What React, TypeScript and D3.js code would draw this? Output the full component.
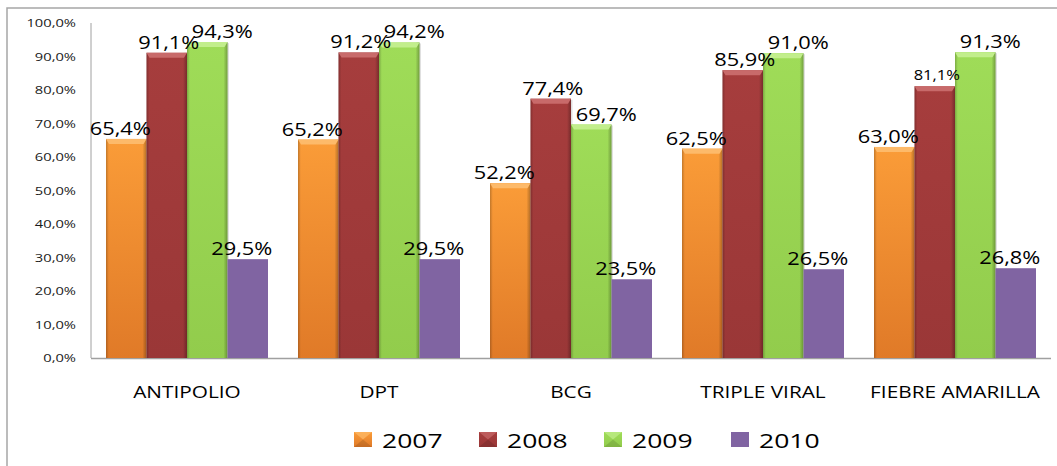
import React from "react";
import * as d3 from "d3";

const categories = ["ANTIPOLIO", "DPT", "BCG", "TRIPLE VIRAL", "FIEBRE AMARILLA"];
const seriesNames = ["2007", "2008", "2009", "2010"];
const v2007 = [0.654, 0.652, 0.522, 0.625, 0.63];
const v2008 = [0.911, 0.912, 0.774, 0.859, 0.811];
const v2009 = [0.943, 0.942, 0.697, 0.91, 0.913];
const v2010 = [0.295, 0.295, 0.235, 0.265, 0.268];
const yTicks = [0, 0.1, 0.2, 0.3, 0.4, 0.5, 0.6, 0.7, 0.8, 0.9, 1.0];

const seriesValues = [v2007, v2008, v2009, v2010];

const W = 1057;
const H = 466;
const plot = { left: 91, right: 1051, top: 23, bottom: 358 };

const styles = [
  { top: "#FA9C38", bottom: "#E07A28", bevel: "#FDBA6A", flat: false, dx: -6 },
  { top: "#A63D3D", bottom: "#9A3737", bevel: "#C86A6A", flat: false, dx: 2 },
  { top: "#9FDC58", bottom: "#92CC4C", bevel: "#C2EE8C", flat: false, dx: 15 },
  { top: "#8064A2", bottom: "#8064A2", bevel: "#8064A2", flat: true, dx: -6 },
];

const FONT = "'Open Sans', sans-serif";

function fmt(v: number) {
  return (v * 100).toFixed(1).replace(".", ",") + "%";
}

function SText(props: {
  x: number;
  y: number;
  sx?: number;
  size: number;
  anchor?: string;
  children: React.ReactNode;
  fill?: string;
}) {
  const { x, y, sx = 1, size, anchor = "middle", children, fill = "#000" } = props;
  return (
    <text
      transform={`translate(${x},${y}) scale(${sx},1)`}
      fontFamily={FONT}
      fontSize={size}
      textAnchor={anchor as any}
      fill={fill}
    >
      {children}
    </text>
  );
}

export default function App() {
  const x0 = d3.scaleBand<string>().domain(categories).range([plot.left, plot.right]).padding(0);
  const x1 = d3
    .scaleBand<string>()
    .domain(seriesNames)
    .range([15, x0.bandwidth() - 15])
    .padding(0);
  const y = d3.scaleLinear().domain([0, 1]).range([plot.bottom, plot.top]);

  const legendX = [354, 479, 604, 731];

  return (
    <svg
      width={W}
      height={H}
      style={{ position: "fixed", left: 0, top: 0, background: "#fff" }}
    >
      <defs>
        {styles.map((s, i) => (
          <linearGradient key={i} id={`vg${i}`} x1="0" y1="0" x2="0" y2="1">
            <stop offset="0" stopColor={s.top} />
            <stop offset="1" stopColor={s.bottom} />
          </linearGradient>
        ))}
        <linearGradient id="edge" x1="0" y1="0" x2="1" y2="0">
          <stop offset="0" stopColor="#000" stopOpacity={0.22} />
          <stop offset="0.07" stopColor="#000" stopOpacity={0} />
          <stop offset="0.9" stopColor="#000" stopOpacity={0} />
          <stop offset="1" stopColor="#000" stopOpacity={0.28} />
        </linearGradient>
      </defs>
      <rect x={0} y={0} width={W} height={H} fill="#fff" />
      {/* outer frame */}
      <rect x={7} y={8} width={W + 10} height={H + 10} fill="none" stroke="#A6A6A6" strokeWidth={1.5} />

      {/* axes */}
      <line x1={plot.left} x2={plot.left} y1={plot.top} y2={plot.bottom} stroke="#A0A0A0" strokeWidth={1} />
      <line x1={plot.left} x2={plot.right} y1={plot.bottom + 0.5} y2={plot.bottom + 0.5} stroke="#A0A0A0" strokeWidth={1.5} />

      {yTicks.map((t) => (
        <SText key={t} x={76} y={y(t) + 4} size={11.5} sx={1.28} anchor="end" fill="#1a1a1a">
          {fmt(t)}
        </SText>
      ))}

      {/* bars */}
      {categories.map((c, ci) =>
        seriesNames.map((s, si) => {
          const v = seriesValues[si][ci];
          const bx = (x0(c) as number) + (x1(s) as number);
          const bw = x1.bandwidth();
          const by = y(v);
          const bh = plot.bottom - by;
          const st = styles[si];
          return (
            <g key={c + s}>
              {!st.flat && (
                <rect x={bx + 1.5} y={by + 1} width={bw} height={bh - 1} fill="#000" opacity={0.12} />
              )}
              <rect x={bx} y={by} width={bw} height={bh} fill={`url(#vg${si})`} />
              {!st.flat && (
                <>
                  <rect x={bx} y={by} width={bw} height={bh} fill="url(#edge)" />
                  <polygon
                    points={`${bx},${by} ${bx + bw},${by} ${bx + bw - 3},${by + 5} ${bx + 3},${by + 5}`}
                    fill={st.bevel}
                  />
                </>
              )}
            </g>
          );
        })
      )}

      {/* value labels */}
      {categories.map((c, ci) =>
        seriesNames.map((s, si) => {
          const v = seriesValues[si][ci];
          const bx = (x0(c) as number) + (x1(s) as number) + x1.bandwidth() / 2;
          const small = ci === 4 && si === 1;
          return (
            <SText
              key={"l" + c + s}
              x={bx + styles[si].dx}
              y={y(v) - (small ? 6 : 4)}
              size={small ? 14 : 18.5}
              sx={1.18}
            >
              {fmt(v)}
            </SText>
          );
        })
      )}

      {/* category labels */}
      {categories.map((c) => (
        <SText key={"c" + c} x={(x0(c) as number) + x0.bandwidth() / 2} y={398} size={16} sx={1.3}>
          {c}
        </SText>
      ))}

      {/* legend */}
      {seriesNames.map((s, i) => {
        const st = styles[i];
        const lx = legendX[i];
        return (
          <g key={"lg" + s}>
            <rect x={lx} y={432} width={18} height={15} fill={`url(#vg${i})`} />
            {!st.flat && (
              <>
                <polygon points={`${lx},${432} ${lx + 18},${432} ${lx + 9},${439.5}`} fill={st.bevel} opacity={0.7} />
                <polygon points={`${lx},${447} ${lx + 18},${447} ${lx + 9},${439.5}`} fill="#000" opacity={0.12} />
              </>
            )}
            <SText x={lx + 28} y={448} size={19.5} sx={1.36} anchor="start">
              {s}
            </SText>
          </g>
        );
      })}
    </svg>
  );
}
